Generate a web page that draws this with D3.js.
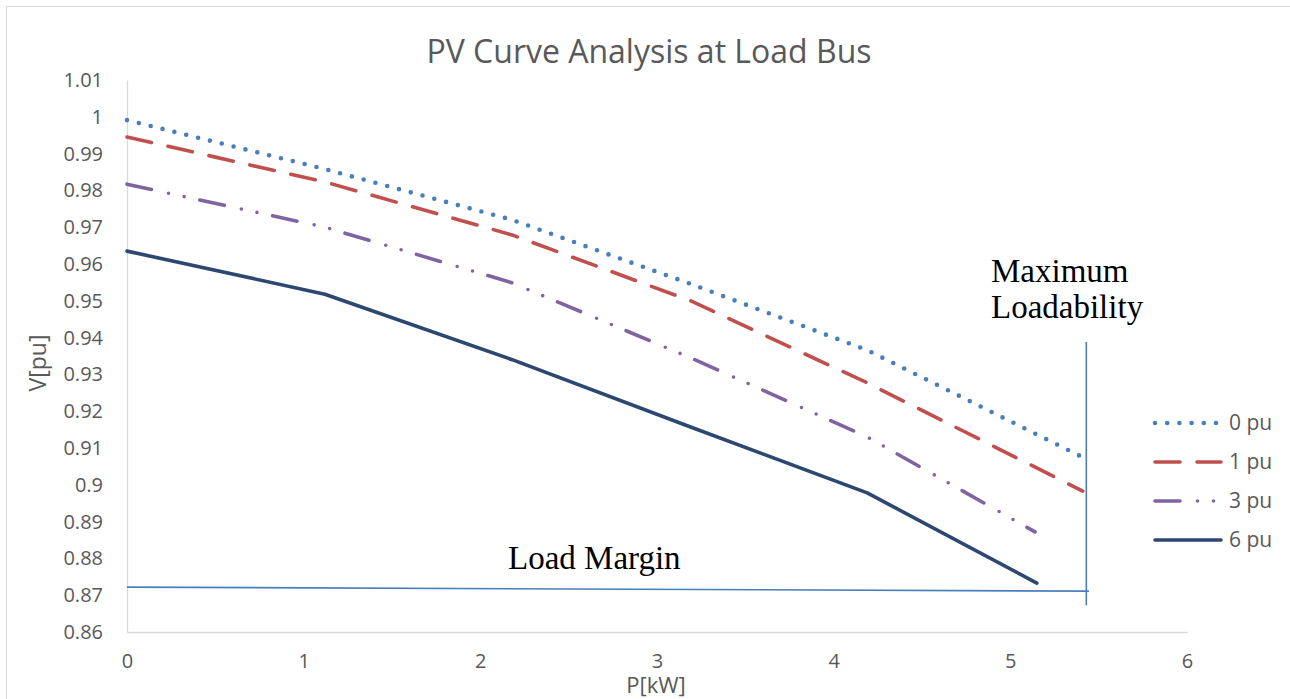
<!DOCTYPE html>
<html>
<head>
<meta charset="utf-8">
<script src="https://cdn.jsdelivr.net/npm/d3@7"></script>
<style>
  html, body { margin: 0; padding: 0; background: #fff; }
  svg { display: block; }
  text { font-family: "Open Sans", "Noto Sans", sans-serif; fill: #595959; }
  .serif { font-family: "Liberation Serif", "DejaVu Serif", serif; fill: #000; }
</style>
</head>
<body>
<svg id="chart" width="1290" height="699"></svg>
<script>
// P-V curves for different compensation levels
const seriesNames = ["0 pu", "1 pu", "3 pu", "6 pu"];
const p0 = [0, 1.12, 2.18, 3.19, 4.19, 5.43];
const v0 = [0.9991, 0.9858, 0.9720, 0.9546, 0.9366, 0.9070];
const p1 = [0, 1.12, 2.18, 3.19, 4.19, 5.41];
const v1 = [0.9945, 0.9823, 0.9679, 0.9500, 0.9277, 0.8983];
const p3 = [0, 1.12, 2.18, 3.19, 4.19, 5.14];
const v3 = [0.9817, 0.9700, 0.9549, 0.9345, 0.9130, 0.8872];
const p6 = [0, 1.12, 2.18, 3.19, 4.19, 5.15];
const v6 = [0.9635, 0.9518, 0.9340, 0.9157, 0.8978, 0.8733];

// annotation lines
const marginP = [0, 5.445];
const marginV = [0.8722, 0.8711];
const maxLoadP = [5.43, 5.43];
const maxLoadV = [0.9388, 0.8673];

const xTicks = [0, 1, 2, 3, 4, 5, 6];
const yTicks = [0.86, 0.87, 0.88, 0.89, 0.9, 0.91, 0.92, 0.93, 0.94, 0.95, 0.96, 0.97, 0.98, 0.99, 1, 1.01];

const svg = d3.select("#chart");

// outer chart frame
svg.append("rect")
  .attr("x", 6.5).attr("y", 6.5)
  .attr("width", 1300).attr("height", 720)
  .attr("fill", "none").attr("stroke", "#d9d9d9").attr("stroke-width", 1);

const x = d3.scaleLinear().domain([0, 6]).range([127, 1187]);
const y = d3.scaleLinear().domain([0.86, 1.01]).range([632, 80]);

// axes
const yAxis = svg.append("g")
  .attr("transform", `translate(${x(0)},0)`)
  .call(d3.axisLeft(y).tickValues(yTicks).tickSize(0).tickPadding(24)
    .tickFormat(d => String(+d.toFixed(2))));
const xAxis = svg.append("g")
  .attr("transform", `translate(0,${y(0.86)})`)
  .call(d3.axisBottom(x).tickValues(xTicks).tickSize(0).tickPadding(22)
    .tickFormat(d => String(d)));

[yAxis, xAxis].forEach(g => {
  g.select(".domain").attr("stroke", "#d9d9d9").attr("stroke-width", 1.3);
  g.selectAll("text")
    .style("font-family", '"Open Sans", "Noto Sans", sans-serif')
    .style("font-size", "20px")
    .attr("fill", "#595959");
});

// titles
svg.append("text")
  .attr("x", 649).attr("y", 63)
  .attr("text-anchor", "middle")
  .style("font-size", "32px")
  .text("PV Curve Analysis at Load Bus");

svg.append("text")
  .attr("x", 656).attr("y", 693)
  .attr("text-anchor", "middle")
  .style("font-size", "22px")
  .text("P[kW]");

svg.append("text")
  .attr("transform", "translate(46,363) rotate(-90)")
  .attr("text-anchor", "middle")
  .style("font-size", "23px")
  .text("V[pu]");

const styles = [
  { p: p0, v: v0, color: "#4a7ebb", width: 4.6, dash: "0,12.2", cap: "round" },
  { p: p1, v: v1, color: "#c0504d", width: 3.6, dash: "25,17", cap: "round" },
  { p: p3, v: v3, color: "#8064a2", width: 3.6, dash: "25,17.5,0,16,0,16", cap: "round" },
  { p: p6, v: v6, color: "#2c4770", width: 3.6, dash: null, cap: "round" }
];

const line = d3.line().x(d => x(d[0])).y(d => y(d[1]));

styles.forEach(s => {
  const pts = s.p.map((p, i) => [p, s.v[i]]);
  svg.append("path")
    .datum(pts)
    .attr("d", line)
    .attr("fill", "none")
    .attr("stroke", s.color)
    .attr("stroke-width", s.width)
    .attr("stroke-linecap", s.cap)
    .attr("stroke-linejoin", "round")
    .attr("stroke-dasharray", s.dash);
});

// load margin & maximum loadability markers
svg.append("path")
  .datum(marginP.map((p, i) => [p, marginV[i]]))
  .attr("d", line)
  .attr("fill", "none").attr("stroke", "#4a7ebb").attr("stroke-width", 1.6);
svg.append("path")
  .datum(maxLoadP.map((p, i) => [p, maxLoadV[i]]))
  .attr("d", line)
  .attr("fill", "none").attr("stroke", "#4a7ebb").attr("stroke-width", 1.6);

svg.append("text").attr("class", "serif")
  .attr("x", 508).attr("y", 569)
  .style("font-size", "33px")
  .text("Load Margin");
svg.append("text").attr("class", "serif")
  .attr("x", 991).attr("y", 282)
  .style("font-size", "33px")
  .text("Maximum");
svg.append("text").attr("class", "serif")
  .attr("x", 991).attr("y", 318)
  .style("font-size", "33px")
  .text("Loadability");

// legend
const legendY = [423, 462, 501, 540];
const legend = svg.append("g");
styles.forEach((s, i) => {
  legend.append("line")
    .attr("x1", 1155).attr("x2", 1221)
    .attr("y1", legendY[i]).attr("y2", legendY[i])
    .attr("stroke", s.color)
    .attr("stroke-width", s.width)
    .attr("stroke-linecap", s.cap)
    .attr("stroke-dasharray", s.dash);
  legend.append("text")
    .attr("x", 1229).attr("y", legendY[i])
    .attr("dy", "0.35em")
    .style("font-size", "21px")
    .text(seriesNames[i]);
});
</script>
</body>
</html>
